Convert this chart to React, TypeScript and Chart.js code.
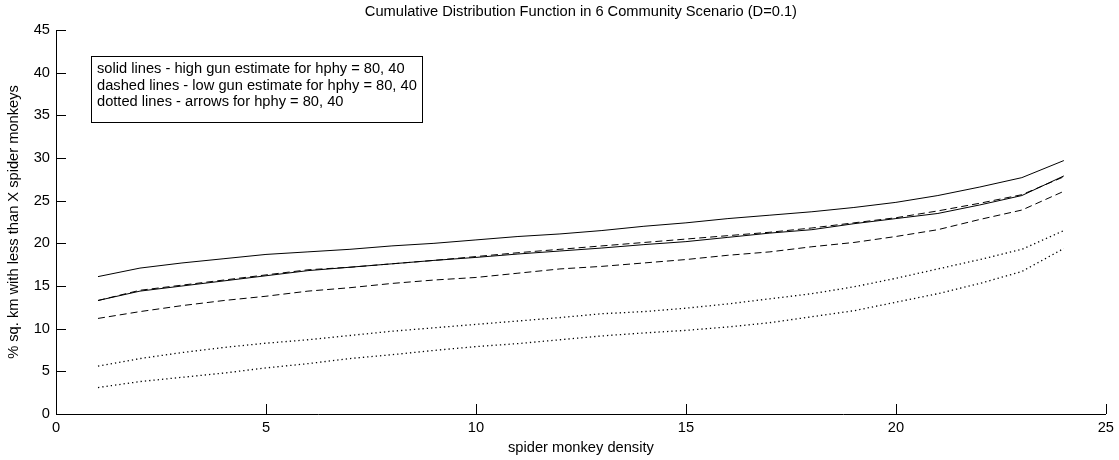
import React, { useEffect, useRef } from "react";
import { Chart, registerables } from "chart.js";

Chart.register(...registerables);

// spider monkey density (x) for every curve
const density = [1, 2, 3, 4, 5, 6, 7, 8, 9, 10, 11, 12, 13, 14, 15, 16, 17, 18, 19, 20, 21, 22, 23, 24];

// solid lines: high gun estimate, hphy = 80 / 40
const highGun80 = [16.1, 17.1, 17.7, 18.2, 18.7, 19.0, 19.3, 19.7, 20.0, 20.4, 20.8, 21.1, 21.5, 22.0, 22.4, 22.9, 23.3, 23.7, 24.2, 24.8, 25.6, 26.6, 27.7, 29.7];
const highGun40 = [13.3, 14.4, 15.0, 15.6, 16.2, 16.8, 17.2, 17.6, 18.0, 18.35, 18.75, 19.1, 19.45, 19.85, 20.2, 20.7, 21.2, 21.6, 22.3, 22.9, 23.5, 24.5, 25.6, 27.9];

// dashed lines: low gun estimate, hphy = 80 / 40
const lowGun80 = [13.3, 14.5, 15.1, 15.7, 16.3, 16.9, 17.2, 17.6, 18.0, 18.45, 18.9, 19.3, 19.7, 20.1, 20.5, 20.9, 21.3, 21.8, 22.4, 23.0, 23.8, 24.7, 25.7, 27.8];
const lowGun40 = [11.2, 12.0, 12.7, 13.3, 13.8, 14.4, 14.8, 15.3, 15.7, 16.0, 16.5, 17.0, 17.3, 17.7, 18.1, 18.6, 19.0, 19.6, 20.1, 20.8, 21.6, 22.8, 23.9, 26.1];

// dotted lines: arrows, hphy = 80 / 40
const arrows80 = [5.6, 6.5, 7.2, 7.8, 8.3, 8.7, 9.2, 9.7, 10.1, 10.5, 10.9, 11.3, 11.75, 12.0, 12.4, 12.9, 13.5, 14.1, 14.9, 15.9, 17.0, 18.1, 19.3, 21.5];
const arrows40 = [3.1, 3.8, 4.3, 4.8, 5.4, 5.9, 6.5, 6.95, 7.45, 7.9, 8.25, 8.7, 9.15, 9.5, 9.8, 10.2, 10.7, 11.4, 12.1, 13.1, 14.1, 15.3, 16.7, 19.4];

const xTicks = [0, 5, 10, 15, 20, 25];
const yTicks = [0, 5, 10, 15, 20, 25, 30, 35, 40, 45];

const chartTitle = "Cumulative Distribution Function in 6 Community Scenario (D=0.1)";
const xLabel = "spider monkey density";
const yLabel = "% sq. km with less than X spider monkeys";
const noteLines = [
  "solid lines - high gun estimate for hphy = 80, 40",
  "dashed lines - low gun estimate for hphy = 80, 40",
  "dotted lines - arrows for hphy = 80, 40",
];

const FONT = "'Liberation Sans', Arial, Helvetica, sans-serif";
const FONT_SIZE = 14.67;

const toPoints = (ys: number[]) => density.map((x, i) => ({ x, y: ys[i] }));

// ticks pointing into the plot, MATLAB style
const inwardTicks = {
  id: "inwardTicks",
  afterDatasetsDraw(chart: any) {
    const { ctx, chartArea, scales } = chart;
    ctx.save();
    ctx.strokeStyle = "#000";
    ctx.lineWidth = 1;
    ctx.beginPath();
    scales.x.ticks.forEach((t: any) => {
      const px = Math.round(scales.x.getPixelForValue(t.value)) + 0.5;
      ctx.moveTo(px, chartArea.bottom);
      ctx.lineTo(px, chartArea.bottom - 10);
    });
    scales.y.ticks.forEach((t: any) => {
      const py = Math.round(scales.y.getPixelForValue(t.value)) + 0.5;
      ctx.moveTo(chartArea.left, py);
      ctx.lineTo(chartArea.left + 10, py);
    });
    ctx.stroke();
    ctx.restore();
  },
};

// title centred over the axes, plus the boxed line-style note
const annotations = {
  id: "annotations",
  afterDraw(chart: any) {
    const { ctx, chartArea } = chart;
    ctx.save();
    ctx.fillStyle = "#000";
    ctx.font = `${FONT_SIZE}px ${FONT}`;
    ctx.textAlign = "center";
    ctx.textBaseline = "middle";
    ctx.fillText(chartTitle, (chartArea.left + chartArea.right) / 2, 12);

    const bx = chartArea.left + 35;
    const by = chartArea.top + 26;
    const textW = Math.max(...noteLines.map((l) => ctx.measureText(l).width));
    const bw = Math.round(textW + 11);
    const bh = 66;
    ctx.strokeStyle = "#000";
    ctx.lineWidth = 1;
    ctx.strokeRect(Math.round(bx) + 0.5, Math.round(by) + 0.5, bw, bh);
    ctx.textAlign = "left";
    noteLines.forEach((line, i) => {
      ctx.fillText(line, bx + 6, by + 13 + i * 16.5);
    });
    ctx.restore();
  },
};

export default function App() {
  const canvasRef = useRef<HTMLCanvasElement | null>(null);

  useEffect(() => {
    const canvas = canvasRef.current;
    if (!canvas) return;
    Chart.defaults.font.family = FONT;
    Chart.defaults.color = "#000";

    const line = (data: number[], dash: number[], width = 1) => ({
      data: toPoints(data),
      borderColor: "#000",
      borderWidth: width,
      borderDash: dash,
      pointRadius: 0,
      tension: 0,
      fill: false,
    });

    const chart = new Chart(canvas, {
      type: "line",
      data: {
        datasets: [
          { label: "high gun, hphy 80", ...line(highGun80, []) },
          { label: "high gun, hphy 40", ...line(highGun40, []) },
          { label: "low gun, hphy 80", ...line(lowGun80, [7, 4]) },
          { label: "low gun, hphy 40", ...line(lowGun40, [7, 4]) },
          { label: "arrows, hphy 80", ...line(arrows80, [1.3, 3], 1.3) },
          { label: "arrows, hphy 40", ...line(arrows40, [1.3, 3], 1.3) },
        ],
      },
      options: {
        animation: false,
        responsive: false,
        devicePixelRatio: 1,
        layout: { padding: { top: 30, right: 12, left: 0, bottom: 0 } },
        plugins: {
          legend: { display: false },
          title: { display: false },
          tooltip: { enabled: false },
        },
        scales: {
          x: {
            type: "linear",
            min: 0,
            max: 25,
            afterBuildTicks: (scale: any) => {
              scale.ticks = xTicks.map((v) => ({ value: v }));
            },
            afterFit: (scale: any) => {
              scale.height = 46;
            },
            grid: { display: false, drawTicks: false },
            border: { display: true, color: "#000", width: 1 },
            ticks: { color: "#000", padding: 5, maxRotation: 0, font: { size: FONT_SIZE, family: FONT } },
            title: {
              display: true,
              text: xLabel,
              color: "#000",
              font: { size: FONT_SIZE, family: FONT },
              padding: { top: 0, bottom: 3 },
            },
          },
          y: {
            type: "linear",
            min: 0,
            max: 45,
            afterBuildTicks: (scale: any) => {
              scale.ticks = yTicks.map((v) => ({ value: v }));
            },
            afterFit: (scale: any) => {
              scale.width = 56;
            },
            grid: { display: false, drawTicks: false },
            border: { display: true, color: "#000", width: 1 },
            ticks: { color: "#000", padding: 6, font: { size: FONT_SIZE, family: FONT } },
            title: {
              display: true,
              text: yLabel,
              color: "#000",
              font: { size: FONT_SIZE, family: FONT },
              padding: { top: 5, bottom: 0 },
            },
          },
        },
      },
      plugins: [inwardTicks, annotations],
    } as any);

    return () => chart.destroy();
  }, []);

  return (
    <div style={{ position: "fixed", left: 0, top: 0, width: 1119, height: 460, background: "#fff" }}>
      <canvas ref={canvasRef} width={1119} height={460} style={{ display: "block" }} />
    </div>
  );
}
